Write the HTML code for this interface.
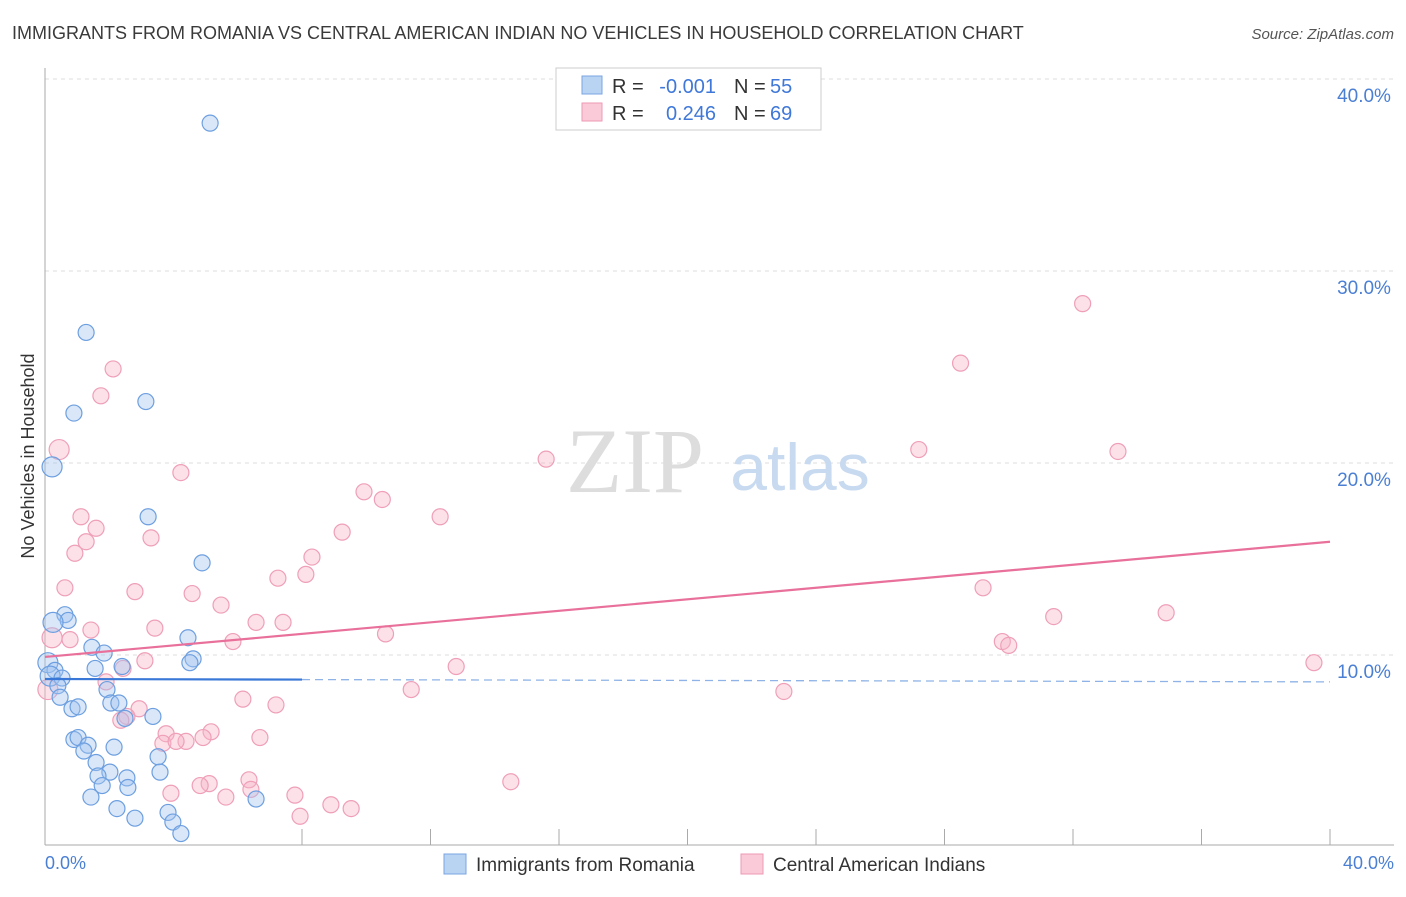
<!DOCTYPE html>
<html><head><meta charset="utf-8"><style>
body{margin:0;background:#fff;font-family:"Liberation Sans",sans-serif;}
</style></head><body>
<svg width="1406" height="892" xmlns="http://www.w3.org/2000/svg" font-family="Liberation Sans, sans-serif">
<text x="12" y="39" font-size="18" fill="#3a3a3a">IMMIGRANTS FROM ROMANIA VS CENTRAL AMERICAN INDIAN NO VEHICLES IN HOUSEHOLD CORRELATION CHART</text>
<text x="1394" y="39" font-size="15" fill="#555" text-anchor="end" font-style="italic">Source: ZipAtlas.com</text>
<g id="grid"></g>
<text x="635" y="492" font-size="92" fill="#ddd" font-family="Liberation Serif, serif" text-anchor="middle">ZIP</text>
<text x="800" y="490" font-size="66" fill="#c8daf0" text-anchor="middle">atlas</text>
<line x1="45" y1="68" x2="45" y2="845" stroke="#aaa"/>
<line x1="45" y1="845" x2="1394" y2="845" stroke="#aaa"/>
<g id="ticks"></g>
<g id="pts"></g>
<g id="lines"></g>
<text transform="translate(34,456) rotate(-90)" font-size="18" fill="#333" text-anchor="middle">No Vehicles in Household</text>
<text x="45" y="869" font-size="18" fill="#4a7fd4">0.0%</text>
<text x="1394" y="869" font-size="18" fill="#4a7fd4" text-anchor="end">40.0%</text>
<g>
<rect x="556" y="68" width="265" height="62" fill="#fff" stroke="#ccc"/>
<rect x="582" y="76" width="20" height="18" fill="#b9d3f3" stroke="#7aa6e0"/>
<rect x="582" y="103" width="20" height="18" fill="#fbcad8" stroke="#ee9ab4"/>
<text x="612" y="93" font-size="20" fill="#333">R =</text>
<text x="716" y="93" font-size="20" fill="#3f78d8" text-anchor="end">-0.001</text>
<text x="734" y="93" font-size="20" fill="#333">N =</text>
<text x="770" y="93" font-size="20" fill="#3f78d8">55</text>
<text x="612" y="120" font-size="20" fill="#333">R =</text>
<text x="716" y="120" font-size="20" fill="#3f78d8" text-anchor="end">0.246</text>
<text x="734" y="120" font-size="20" fill="#333">N =</text>
<text x="770" y="120" font-size="20" fill="#3f78d8">69</text>
</g>
<g>
<rect x="444" y="854" width="22" height="20" fill="#b9d3f3" stroke="#7aa6e0"/>
<text x="476" y="871" font-size="19" fill="#333">Immigrants from Romania</text>
<rect x="741" y="854" width="22" height="20" fill="#fbcad8" stroke="#ee9ab4"/>
<text x="773" y="871" font-size="19" fill="#333">Central American Indians</text>
</g>
</svg>
<script>
const yTicks=[10,20,30,40];
const xTickMarks=[8,12,16,20,24,28,32,36,40];
const blueX=[5.14,1.28,0.90,3.14,0.22,3.21,4.89,0.62,0.72,0.25,1.46,1.84,4.45,4.61,4.51,0.09,0.31,1.56,2.40,0.16,0.53,0.40,1.93,0.47,0.84,1.03,2.05,2.30,3.36,2.49,0.90,1.03,1.34,2.15,1.21,3.52,1.59,2.02,1.65,2.55,3.58,1.78,2.58,1.43,6.57,2.24,3.83,2.80,3.98,4.23];
const blueY=[37.7,26.8,22.6,23.2,19.8,17.2,14.8,12.1,11.8,11.7,10.4,10.1,10.9,9.8,9.6,9.6,9.2,9.3,9.4,8.9,8.8,8.4,8.2,7.8,7.2,7.3,7.5,7.5,6.8,6.7,5.6,5.7,5.3,5.2,5.0,4.7,4.4,3.9,3.7,3.6,3.9,3.2,3.1,2.6,2.5,2.0,1.8,1.5,1.3,0.7];
const pinkX=[32.3,28.5,2.12,1.74,0.44,27.2,33.4,15.6,4.23,9.93,10.5,12.3,1.12,1.59,9.25,3.30,1.28,0.93,8.31,7.25,8.12,0.62,29.2,2.80,4.58,5.48,34.9,31.4,6.57,7.41,3.42,1.43,10.6,0.22,0.78,5.85,29.8,30.0,3.11,2.43,12.8,39.5,1.90,0.09,11.4,23.0,6.16,7.19,2.93,2.55,2.36,3.77,5.17,6.69,4.92,3.67,4.39,4.08,14.5,6.35,5.11,4.83,6.41,3.92,5.63,7.78,8.90,9.53,7.94];
const pinkY=[28.3,25.2,24.9,23.5,20.7,20.7,20.6,20.2,19.5,18.5,18.1,17.2,17.2,16.6,16.4,16.1,15.9,15.3,15.1,14.0,14.2,13.5,13.5,13.3,13.2,12.6,12.2,12.0,11.7,11.7,11.4,11.3,11.1,10.9,10.8,10.7,10.7,10.5,9.7,9.3,9.4,9.6,8.6,8.2,8.2,8.1,7.7,7.4,7.2,6.8,6.6,5.9,6.0,5.7,5.7,5.4,5.5,5.5,3.4,3.5,3.3,3.2,3.0,2.8,2.6,2.7,2.2,2.0,1.6];
const pinkTrend=[9.9,15.9];
const blueTrend=[8.75,8.6];
const X=v=>45+v/40*1285, Y=v=>847-v*19.2;
const NS="http://www.w3.org/2000/svg";
function mk(t,a,p){const e=document.createElementNS(NS,t);for(const k in a)e.setAttribute(k,a[k]);document.getElementById(p).appendChild(e);return e;}
yTicks.forEach(t=>{
 const l=mk('line',{x1:45,x2:1394,y1:Y(t),y2:Y(t),stroke:'#ddd','stroke-dasharray':'4,4'},'grid');
 
 
 const tx=mk('text',{x:1364,y:Y(t)+23,'font-size':19,fill:'#4a7fd4','text-anchor':'middle'},'grid');
 tx.textContent=t.toFixed(1)+'%';
 
 
});
xTickMarks.forEach(t=>{
 const l=mk('line',{x1:X(t),x2:X(t),y1:829,y2:845,stroke:'#aaa'},'ticks');
 
 
});
pinkX.forEach((x,i)=>{
 const c=mk('circle',{cx:X(x),cy:Y(pinkY[i]),r:x<0.5?10:8,fill:'rgba(248,180,200,0.4)',stroke:'#ef9fb8','stroke-width':1.2},'pts');
 
 
});
blueX.forEach((x,i)=>{
 const c=mk('circle',{cx:X(x),cy:Y(blueY[i]),r:x<0.3?10:8,fill:'rgba(160,195,240,0.4)',stroke:'#6d9fe0','stroke-width':1.2},'pts');
 
 
});
const pl=mk('line',{x1:X(0),y1:Y(pinkTrend[0]),x2:X(40),y2:Y(pinkTrend[1]),stroke:'#e8709a','stroke-width':2.2},'lines');


const bm=blueTrend[0]+(blueTrend[1]-blueTrend[0])*8/40;
const bl=mk('line',{x1:X(0),y1:Y(blueTrend[0]),x2:X(8),y2:Y(bm),stroke:'#3a78d8','stroke-width':2.2},'lines');


const bd=mk('line',{x1:X(8),y1:Y(bm),x2:X(40),y2:Y(blueTrend[1]),stroke:'#8fb3e6','stroke-width':1.3,'stroke-dasharray':'8,5'},'lines');


</script>
</body></html>
